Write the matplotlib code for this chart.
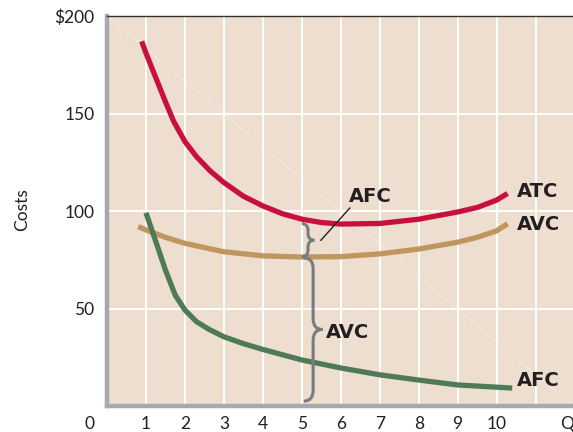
import numpy as np
import matplotlib
matplotlib.use("Agg")
import matplotlib.pyplot as plt
from matplotlib.path import Path
from matplotlib.patches import PathPatch

# values
atc_q = [0.89, 1, 1.28, 1.5, 1.71, 2, 2.3, 2.65, 3, 3.5, 4, 4.5, 5, 5.5, 6, 7, 8, 9, 9.5, 10, 10.28]
atc = [187, 181, 167, 156, 146, 135.6, 127.8, 120.5, 114.6, 107.6, 102.6, 98.6, 95.8, 94.1, 93.3, 93.6, 95.8, 99.5, 101.8, 105.6, 109]
avc_q = [0.8, 1, 1.5, 2, 3, 4, 5, 6, 7, 8, 9, 9.5, 10, 10.28]
avc = [92, 90.3, 86.5, 83.4, 79.1, 77, 76.4, 76.6, 78, 80.5, 84, 86.5, 89.8, 93.5]
afc_q = [1.0, 1.24, 1.5, 1.75, 2, 2.3, 2.6, 3, 3.5, 4, 5, 6, 7, 8, 9, 10.4]
afc = [99.1, 85.1, 69.7, 56.9, 49.2, 43.2, 39.5, 35.5, 32, 29, 23.6, 19.5, 16, 13.3, 10.8, 9.2]

x_ticks = [1, 2, 3, 4, 5, 6, 7, 8, 9, 10]
y_ticks = [50, 100, 150, 200]
y_tick_labels = ["50", "100", "150", "$200"]

RED = "#c8103e"
TAN = "#c0965f"
GREEN = "#4e7a55"
BG = "#edded0"
INK = "#231f20"
SPINE = "#a7a9ac"
BRACE = "#7a7b80"

plt.rcParams['font.family'] = ['Lato', 'DejaVu Sans']

fig = plt.figure(figsize=(5.73, 4.32), dpi=100)
ax = fig.add_axes([107 / 573, 26 / 432, 1 - 107 / 573, 390 / 432])
ax.set_facecolor(BG)
ax.set_xlim(0, 11.96)
ax.set_ylim(0, 200)

# grid
for q in range(1, 12):
    ax.axvline(q, color="white", lw=1.4, zorder=1)
for c in [50, 100, 150]:
    ax.axhline(c, color="white", lw=1.4, zorder=1)
ax.plot([0, 1], [1, 0], transform=ax.transAxes, color="white", lw=0.6, alpha=0.45, zorder=1)

ax.plot(atc_q, atc, color=RED, lw=3.8, solid_capstyle="butt", solid_joinstyle="round", zorder=3)
ax.plot(avc_q, avc, color=TAN, lw=3.8, solid_capstyle="butt", solid_joinstyle="round", zorder=3)
ax.plot(afc_q, afc, color=GREEN, lw=3.8, solid_capstyle="butt", solid_joinstyle="round", zorder=3)


def brace(x, y0, y1, w, d):
    """curly brace '}' from y0 to y1, left edge at x, tip width w"""
    xs = x + w / 2
    xt = x + w
    ym = (y0 + y1) / 2
    verts = [(x, y1), (xs, y1), (xs, y1 - d),
             (xs, ym + d), (xs, ym), (xt, ym),
             (xs, ym), (xs, ym - d),
             (xs, y0 + d), (xs, y0), (x, y0)]
    codes = [Path.MOVETO, Path.CURVE3, Path.CURVE3,
             Path.LINETO, Path.CURVE3, Path.CURVE3,
             Path.CURVE3, Path.CURVE3,
             Path.LINETO, Path.CURVE3, Path.CURVE3]
    ax.add_patch(PathPatch(Path(verts, codes), fill=False, color=BRACE, lw=2.2, zorder=4))


brace(5.0, 76.5, 93.5, 0.32, 3.5)
brace(5.05, 2.5, 76.0, 0.48, 5.5)
ax.plot([5.49, 6.23], [85, 101.5], color=INK, lw=1, zorder=5)

lab = dict(color=INK, fontsize=14, fontweight="bold", va="center", zorder=6,
           family=["DejaVu Sans"])
ax.text(6.22, 107.5, "AFC", ha="left", **lab)
ax.text(5.62, 37.5, "AVC", ha="left", **lab)
ax.text(10.52, 110, "ATC", ha="left", **lab)
ax.text(10.52, 93, "AVC", ha="left", **lab)
ax.text(10.52, 13, "AFC", ha="left", **lab)

# axes frame
ax.spines["right"].set_visible(False)
ax.spines["top"].set_color("#333333")
ax.spines["top"].set_linewidth(1.0)
for s in ["left", "bottom"]:
    ax.spines[s].set_color(SPINE)
    ax.spines[s].set_linewidth(3.2)

ax.set_xticks(x_ticks)
ax.set_xticklabels([str(v) for v in x_ticks])
ax.set_yticks(y_ticks)
ax.set_yticklabels(y_tick_labels)
ax.tick_params(length=0, labelsize=12.5, colors=INK, pad=9)
ax.tick_params(axis="x", pad=7)
ax.text(-0.45, -9, "0", ha="center", va="center", fontsize=12.5, color=INK, clip_on=False)
ax.text(11.8, -9, "Q", ha="center", va="center", fontsize=12.5, color=INK, clip_on=False)
fig.text(22 / 573, 1 - 210 / 432, "Costs", rotation=90, ha="center", va="center",
         fontsize=12.5, color=INK)

fig.savefig("out.png", dpi=100, facecolor="white")
